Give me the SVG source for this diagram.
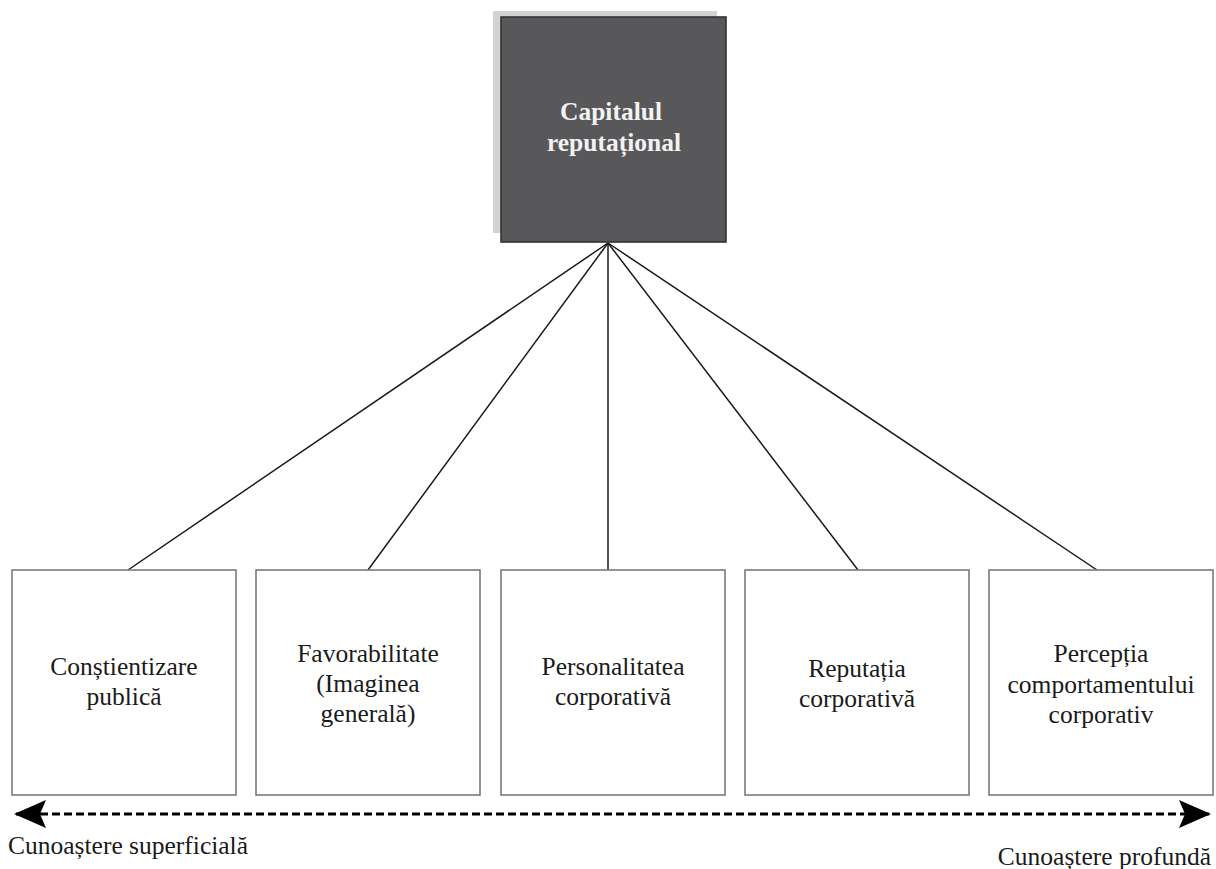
<svg xmlns="http://www.w3.org/2000/svg" width="1216" height="869" viewBox="0 0 1216 869">
<style>
.box{fill:#fff;stroke:#7a7a7a;stroke-width:1.6}
.t{font-family:"Liberation Serif","Times New Roman",serif;font-size:25.5px;fill:#1a1a1a;text-anchor:middle}
.tw{font-family:"Liberation Serif","Times New Roman",serif;font-size:25.5px;font-weight:bold;fill:#f2f2f2;text-anchor:middle}
.lbl{font-family:"Liberation Serif","Times New Roman",serif;font-size:25.5px;fill:#1a1a1a}
.c{stroke:#1a1a1a;stroke-width:1.5;fill:none}
</style>
<defs>
<marker id="ah" viewBox="0 0 32 28" refX="30" refY="14" markerWidth="32" markerHeight="28" markerUnits="userSpaceOnUse" orient="auto-start-reverse">
<path d="M0,0 L32,14 L0,28 L6,14 Z" fill="#000"/>
</marker>
</defs>
<rect width="1216" height="869" fill="#fff"/>
<g id="connectors">
<line class="c" x1="608" y1="243" x2="128" y2="570"/>
<line class="c" x1="608" y1="243" x2="368" y2="570"/>
<line class="c" x1="608" y1="243" x2="608" y2="570"/>
<line class="c" x1="608" y1="243" x2="858" y2="570"/>
<line class="c" x1="608" y1="243" x2="1097" y2="570"/>
<line x1="16" y1="814" x2="1209" y2="814" stroke="#000" stroke-width="3" stroke-dasharray="8,4" marker-start="url(#ah)" marker-end="url(#ah)"/>
</g>
<g id="capital">
<rect x="493" y="11" width="224" height="222" fill="#d2d2d2"/>
<rect x="501" y="17" width="225" height="225" fill="#58585a" stroke="#333" stroke-width="1.6"/>
<text class="tw" x="611" y="120">Capitalul</text>
<text class="tw" x="614" y="151">reputațional</text>
</g>
<g id="n1">
<rect class="box" x="12" y="570" width="224" height="225"/>
<text class="t" x="124" y="675">Conștientizare</text>
<text class="t" x="124" y="705">publică</text>
</g>
<g id="n2">
<rect class="box" x="256" y="570" width="224" height="225"/>
<text class="t" x="368" y="662">Favorabilitate</text>
<text class="t" x="368" y="692">(Imaginea</text>
<text class="t" x="368" y="722">generală)</text>
</g>
<g id="n3">
<rect class="box" x="501" y="570" width="224" height="225"/>
<text class="t" x="613" y="675">Personalitatea</text>
<text class="t" x="613" y="705">corporativă</text>
</g>
<g id="n4">
<rect class="box" x="745" y="570" width="224" height="225"/>
<text class="t" x="857" y="677">Reputația</text>
<text class="t" x="857" y="707">corporativă</text>
</g>
<g id="n5">
<rect class="box" x="989" y="570" width="224" height="225"/>
<text class="t" x="1101" y="662">Percepția</text>
<text class="t" x="1101" y="693">comportamentului</text>
<text class="t" x="1101" y="723">corporativ</text>
</g>
<g id="labels">
<text class="lbl" x="8" y="854">Cunoaștere superficială</text>
<text class="lbl" x="1211" y="865" text-anchor="end">Cunoaștere profundă</text>
</g>
</svg>
